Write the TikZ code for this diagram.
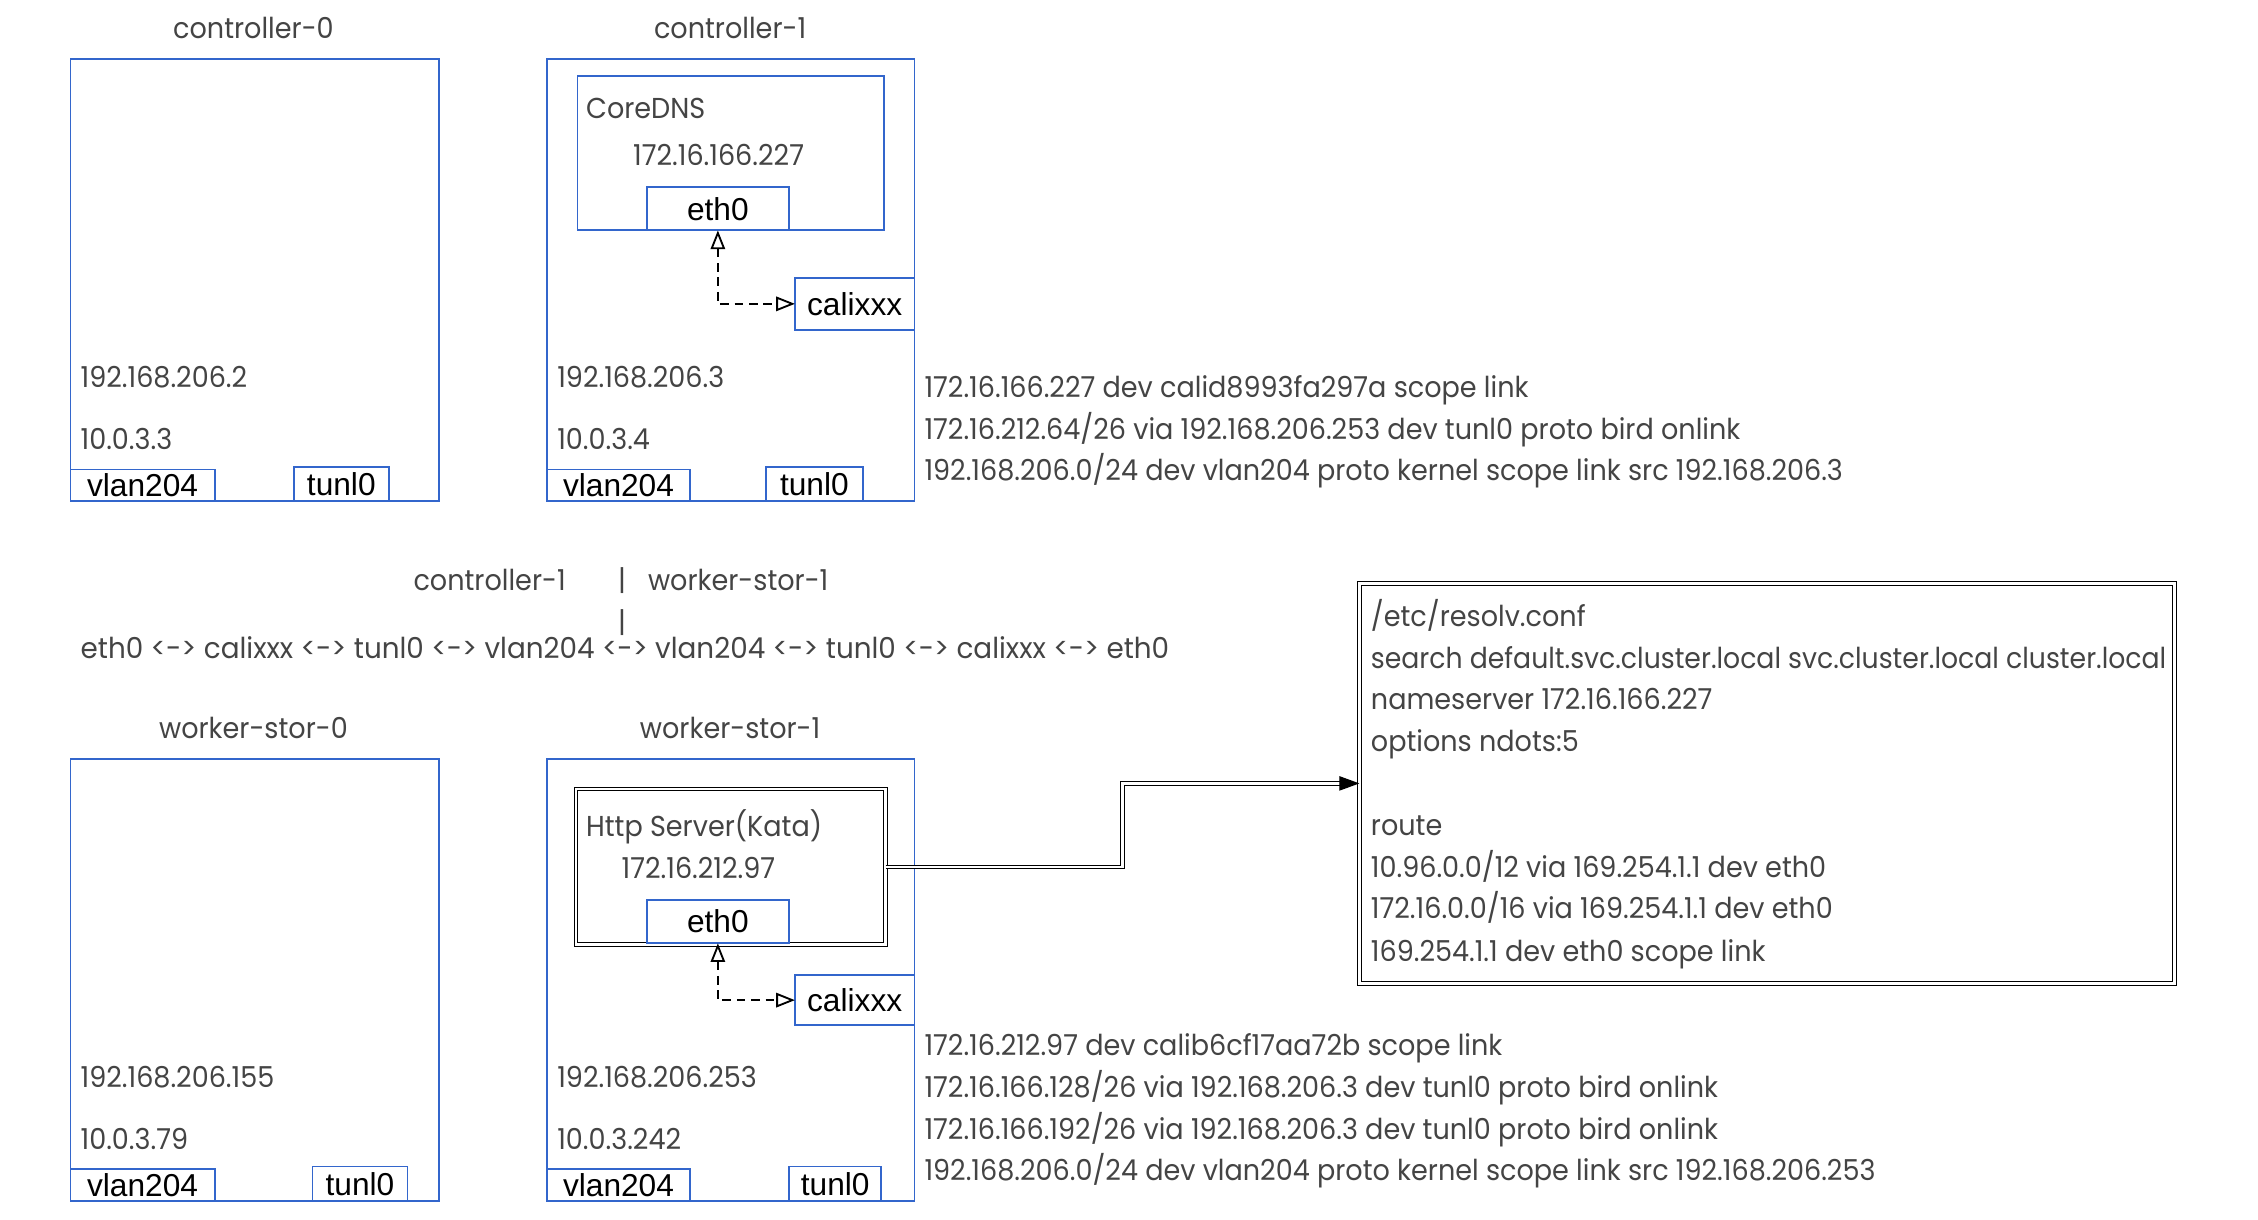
\documentclass[tikz,border=0pt]{standalone}
\usepackage{fontspec}
\setmainfont{Liberation Sans}
\newfontfamily\gfont[FakeStretch=0.94]{Poppins}
\newfontfamily\gfontn[FakeStretch=0.927]{Poppins}
\newfontfamily\gfontw[FakeStretch=0.966]{Poppins}
\usetikzlibrary{arrows.meta,calc}
\definecolor{boxblue}{HTML}{3366CC}
\definecolor{txtgray}{HTML}{444444}
\tikzset{
  bx/.style={draw=boxblue, line width=1.3pt, inner sep=0pt, outer sep=0pt, anchor=north west, font=\fontsize{22}{24}\selectfont, text=black},
  gt/.style={inner sep=0pt, outer sep=0pt, text height=14pt, text depth=0pt, anchor=west, text=txtgray, font=\gfont\fontsize{20}{22}\selectfont},
  dbl/.style={draw=black, line width=0.7pt, double=white, double distance=1.8pt, inner sep=0pt, outer sep=0pt, anchor=north west},
  dasharrow/.style={dash pattern=on 6pt off 4pt, line width=1.3pt, {Triangle[open,length=13pt,width=10pt,line width=1.3pt]}-{Triangle[open,length=13pt,width=10pt,line width=1.3pt]}},
}
\begin{document}
\begin{tikzpicture}[x=1pt,y=-1pt]
\useasboundingbox[fill=white] (0,0) rectangle (1568,847);
% ---------- controller-0 ----------
\node[gt,anchor=center] (tc0) at (176,20) {controller-0};
\node[bx,minimum width=256,minimum height=307] (c0) at (49,41) {};
\node[gt] (c0a) at (56,262) {192.168.206.2};
\node[gt] (c0b) at (56,305) {10.0.3.3};
\node[bx,minimum width=100,minimum height=22] (c0vlan) at (49,326) {vlan204};
\node[bx,minimum width=66,minimum height=24] (c0tun) at (204,324) {tunl0};
% ---------- controller-1 ----------
\node[gt,anchor=center] (tc1) at (507,20) {controller-1};
\node[bx,minimum width=255,minimum height=307] (c1) at (380,41) {};
\node[bx,minimum width=213,minimum height=107] (dns) at (401,53) {};
\node[gt] (dnsname) at (407,75) {CoreDNS};
\node[gt,anchor=center] (dnsip) at (499,108) {172.16.166.227};
\node[bx,minimum width=99,minimum height=30] (c1eth) at (449,130) {eth0};
\node[bx,minimum width=83,minimum height=36] (c1cali) at (552,193) {calixxx};
\draw[dasharrow] (c1eth.south) |- (c1cali.west);
\node[gt] (c1a) at (387,262) {192.168.206.3};
\node[gt] (c1b) at (387,305) {10.0.3.4};
\node[bx,minimum width=99,minimum height=22] (c1vlan) at (380,326) {vlan204};
\node[bx,minimum width=67,minimum height=24] (c1tun) at (532,324) {tunl0};
\node[gt] (r1a) at (642,269) {172.16.166.227 dev calid8993fa297a scope link};
\node[gt] (r1b) at (642,298) {172.16.212.64/26 via 192.168.206.253 dev tunl0 proto bird onlink};
\node[gt] (r1c) at (642,327) {192.168.206.0/24 dev vlan204 proto kernel scope link src 192.168.206.3};
% ---------- middle ----------
\node[gt,anchor=center] (mc1) at (340,403) {controller-1};
\node[gt,anchor=center] (mbar1) at (432,403) {|};
\node[gt] (mw1) at (450,403) {worker-stor-1};
\node[gt,anchor=center] (mbar2) at (432,432) {|};
\node[gt,font=\gfontw\fontsize{20}{22}\selectfont] (mpath) at (56,450) {eth0 <-> calixxx <-> tunl0 <-> vlan204 <-> vlan204 <-> tunl0 <-> calixxx <-> eth0};
% ---------- worker-stor-0 ----------
\node[gt,anchor=center] (tw0) at (176,506) {worker-stor-0};
\node[bx,minimum width=256,minimum height=307] (w0) at (49,527) {};
\node[gt] (w0a) at (56,748) {192.168.206.155};
\node[gt] (w0b) at (56,791) {10.0.3.79};
\node[bx,minimum width=100,minimum height=22] (w0vlan) at (49,812) {vlan204};
\node[bx,minimum width=66,minimum height=24] (w0tun) at (217,810) {tunl0};
% ---------- worker-stor-1 ----------
\node[gt,anchor=center] (tw1) at (507,506) {worker-stor-1};
\node[bx,minimum width=255,minimum height=307] (w1) at (380,527) {};
\node[dbl,minimum width=215,minimum height=108] (http) at (400,548) {};
\node[gt] (httpname) at (407,574) {Http Server(Kata)};
\node[gt,anchor=center] (httpip) at (485,603) {172.16.212.97};
\node[bx,minimum width=99,minimum height=30] (w1eth) at (449,625) {eth0};
\node[bx,minimum width=83,minimum height=35] (w1cali) at (552,677) {calixxx};
\draw[dasharrow] (w1eth.south) |- (w1cali.west);
\node[gt] (w1a) at (387,748) {192.168.206.253};
\node[gt] (w1b) at (387,791) {10.0.3.242};
\node[bx,minimum width=99,minimum height=22] (w1vlan) at (380,812) {vlan204};
\node[bx,minimum width=64,minimum height=24] (w1tun) at (548,810) {tunl0};
\node[gt] (r2a) at (642,726) {172.16.212.97 dev calib6cf17aa72b scope link};
\node[gt] (r2b) at (642,755) {172.16.166.128/26 via 192.168.206.3 dev tunl0 proto bird onlink};
\node[gt] (r2c) at (642,784) {172.16.166.192/26 via 192.168.206.3 dev tunl0 proto bird onlink};
\node[gt] (r2d) at (642,813) {192.168.206.0/24 dev vlan204 proto kernel scope link src 192.168.206.253};
% ---------- resolv box ----------
\node[dbl,minimum width=566,minimum height=278] (res) at (944,405) {};
\node[gt] (s1) at (952,428) {/etc/resolv.conf};
\node[gt,font=\gfontn\fontsize{20}{22}\selectfont] (s2) at (952,457) {search default.svc.cluster.local svc.cluster.local cluster.local};
\node[gt] (s3) at (952,486) {nameserver 172.16.166.227};
\node[gt] (s4) at (952,515) {options ndots:5};
\node[gt] (s5) at (952,573) {route};
\node[gt] (s6) at (952,602) {10.96.0.0/12 via 169.254.1.1 dev eth0};
\node[gt] (s7) at (952,631) {172.16.0.0/16 via 169.254.1.1 dev eth0};
\node[gt] (s8) at (952,661) {169.254.1.1 dev eth0 scope link};
% ---------- connector ----------
\coordinate (mid) at ($(http.east)!0.5!(res.west)$);
\coordinate (pre) at ($(res.west)+(-13,0)$);
\draw[line width=0.7pt, double=white, double distance=1.8pt] (http.east) -| (mid) |- (pre);
\draw[line width=0.8pt, -{Triangle[length=14pt,width=10pt]}] (pre) -- (res.west);
\end{tikzpicture}
\end{document}
